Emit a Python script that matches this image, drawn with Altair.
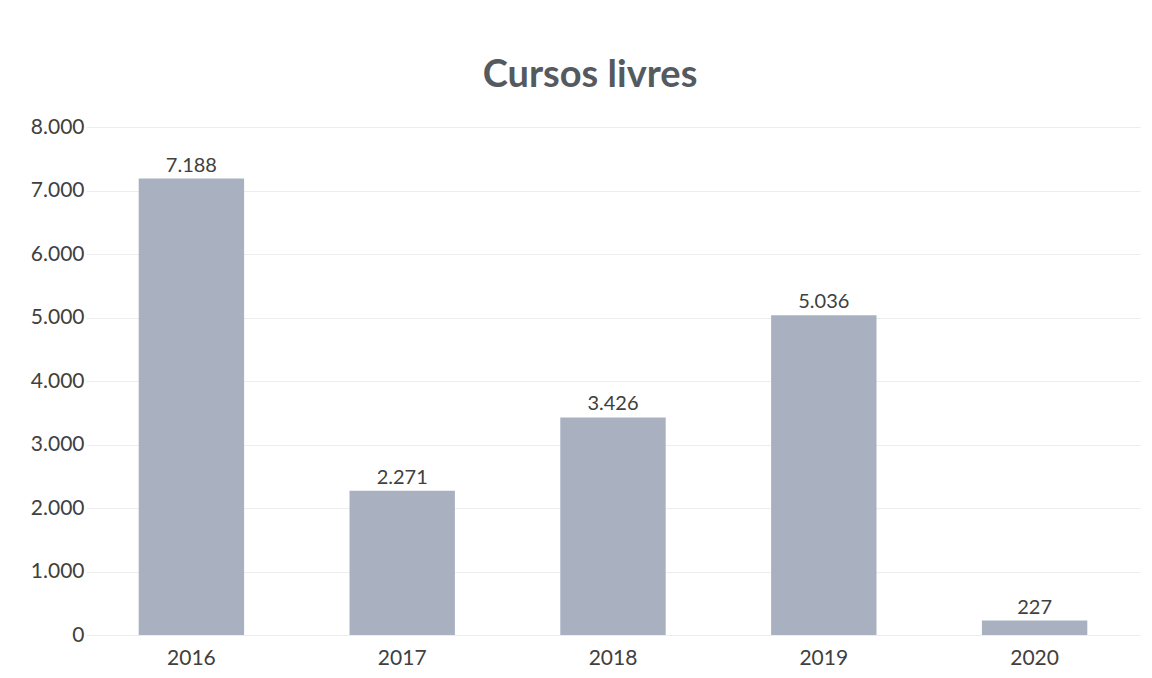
import altair as alt
import pandas as pd

years = ["2016", "2017", "2018", "2019", "2020"]
values = [7188, 2271, 3426, 5036, 227]
y_ticks = [0, 1000, 2000, 3000, 4000, 5000, 6000, 7000, 8000]

df = pd.DataFrame({"ano": years, "valor": values})

FONT = "Lato"

base = alt.Chart(df).encode(
    x=alt.X("ano:N", sort=years, title=None,
            scale=alt.Scale(paddingInner=0.5, paddingOuter=0.25),
            axis=alt.Axis(labelAngle=0, labelFontSize=21, labelColor="#404040",
                          labelFont=FONT, ticks=False, domain=False,
                          labelPadding=12, grid=False)),
    y=alt.Y("valor:Q", title=None,
            scale=alt.Scale(domain=[0, 8000], nice=False),
            axis=alt.Axis(values=y_ticks, labelFontSize=21, labelColor="#404040",
                          labelFont=FONT, ticks=False, domain=False, labelPadding=2,
                          labelExpr="replace(format(datum.value, ','), ',', '.')",
                          grid=True, gridColor="#ededed", gridWidth=1)),
)

bars = base.mark_bar(color="#a9b1c0")

labels = base.transform_calculate(
    rotulo="replace(format(datum.valor, ','), ',', '.')"
).mark_text(baseline="bottom", dy=-3, fontSize=20, font=FONT, color="#404040").encode(
    text="rotulo:N"
)

chart = (bars + labels).properties(
    width=1054,
    height=508,
    background="white",
    autosize=alt.AutoSizeParams(type="none"),
    padding={"left": 78, "top": 119, "right": 4, "bottom": 40},
    title=alt.TitleParams("Cursos livres", fontSize=38, font=FONT, fontWeight="bold",
                          color="#555a60", offset=21, dx=-23, anchor="middle"),
).configure_view(stroke=None)

chart.save("out.html", embed_options={"renderer": "svg", "actions": False})
